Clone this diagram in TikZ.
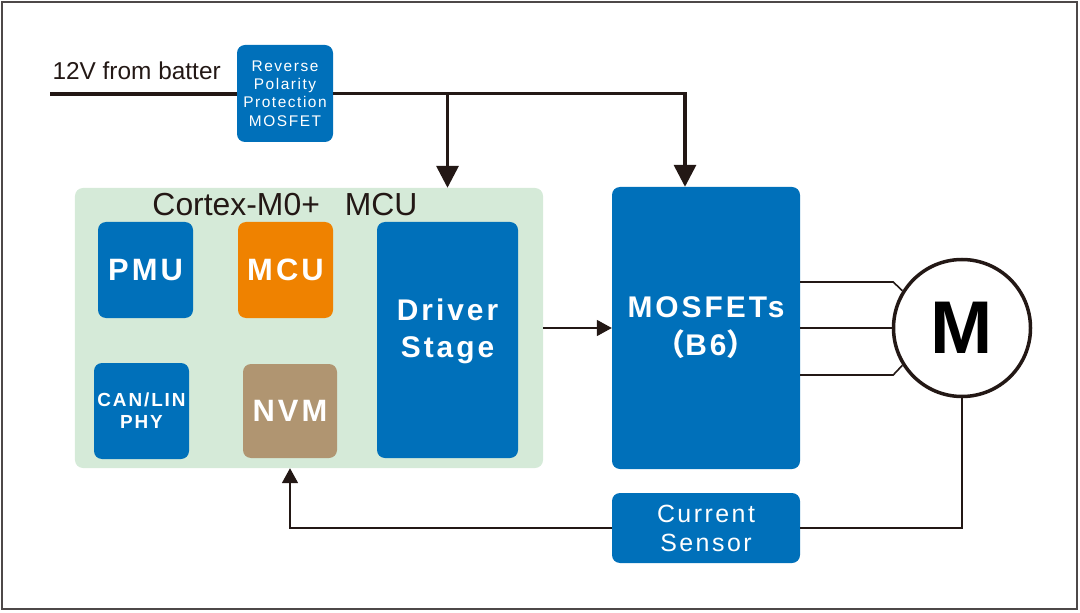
\documentclass[tikz,border=0pt]{standalone}
\usepackage{fontspec}
\setmainfont{Liberation Sans}
\newfontfamily\boxfont[LetterSpace=10]{Liberation Sans}
\newfontfamily\cjk{Noto Sans CJK SC}
\usetikzlibrary{arrows.meta}
\definecolor{mblue}{HTML}{0070BA}
\definecolor{morange}{HTML}{EF8200}
\definecolor{mtan}{HTML}{B09571}
\definecolor{mgreen}{HTML}{D5EAD8}
\definecolor{ink}{HTML}{231815}
\definecolor{framegray}{HTML}{4D4848}

\begin{document}
\begin{tikzpicture}[x=1bp,y=-1bp,
    blk/.style={fill=mblue, rounded corners=8bp, text=white, align=center, inner sep=0pt},
    pwr/.style={draw=ink, line width=3.5bp},
    fb/.style={draw=ink, line width=1.8bp},
    wire/.style={draw=ink, line width=1.6bp}]
\useasboundingbox (0,0) rectangle (1080,613);
\draw[framegray, line width=2.5bp] (2,2) rectangle (1077,609);

\node[fill=mgreen, rounded corners=8bp, inner sep=0pt, minimum width=468bp, minimum height=280bp](mcubox) at (309,328){};
\node[text=ink, font=\fontsize{32}{36}\selectfont](cortex) at (285,205){Cortex-M0+\hspace{25bp}MCU};
\node[blk, minimum width=95bp, minimum height=96bp, font=\boxfont\bfseries\fontsize{31}{36}\selectfont](pmu) at (145.5,270){PMU};
\node[blk, fill=morange, minimum width=95bp, minimum height=96bp, font=\boxfont\bfseries\fontsize{31}{36}\selectfont](mcu) at (285.5,270){MCU};
\node[blk, minimum width=95bp, minimum height=96bp, font=\boxfont\bfseries\fontsize{19}{22}\selectfont](phy) at (141.5,411){CAN/LIN\\PHY};
\node[blk, fill=mtan, minimum width=94bp, minimum height=94bp, font=\boxfont\bfseries\fontsize{31}{36}\selectfont](nvm) at (290,411){NVM};
\node[blk, minimum width=141bp, minimum height=236bp, text depth=24bp, font=\boxfont\bfseries\fontsize{30}{36.5}\selectfont](drv) at (447.5,340){Driver\\Stage};
\node[blk, minimum width=188bp, minimum height=282bp, font=\boxfont\bfseries\fontsize{30}{38}\selectfont](mosfet) at (706,328){MOSFETs\\{\cjk （}B6{\cjk ）}};
\node[blk, minimum width=188bp, minimum height=70bp, font=\boxfont\fontsize{25}{29}\selectfont](sensor) at (706,528){Current\\Sensor};
\node[draw=ink, line width=3.5bp, fill=white, circle, minimum size=137bp, inner sep=0pt, font=\bfseries\fontsize{75}{80}\selectfont](motor) at (962,328){M};

\coordinate (batt) at (50,94);
\node[text=ink, anchor=base west, font=\fontsize{24.5}{28}\selectfont](battlabel) at (49,80){12V from batter};
\draw[pwr] (batt) -- (285,94);
\node[blk, minimum width=96bp, minimum height=97bp, font=\boxfont\fontsize{15.5}{18.3}\selectfont](rpp) at (285,93.5){Reverse\\Polarity\\Protection\\MOSFET};

\coordinate (mtop) at ([xshift=-21bp]mosfet.north);
\draw[pwr, -{Triangle[width=22bp,length=22bp]}] (rpp.east) -- (mtop |- rpp.east) -- (mtop);
\draw[pwr, -{Triangle[width=22bp,length=22bp]}] (drv.north |- rpp.east) -- (drv.north |- mcubox.north);
\draw[fb, -{Triangle[width=16bp,length=15bp]}] (mcubox.east) -- (mosfet.west);

\draw[wire] ([yshift=46bp]mosfet.east) -- ++(93,0) -- (motor.148);
\draw[wire] (mosfet.east) -- (motor.west);
\draw[wire] ([yshift=-47bp]mosfet.east) -- ++(93,0) -- (motor.212);

\draw[fb] (motor.south) |- (sensor.east);
\draw[fb, -{Triangle[width=16bp,length=15bp]}] (sensor.west) -| (nvm.south |- mcubox.south);
\end{tikzpicture}
\end{document}
